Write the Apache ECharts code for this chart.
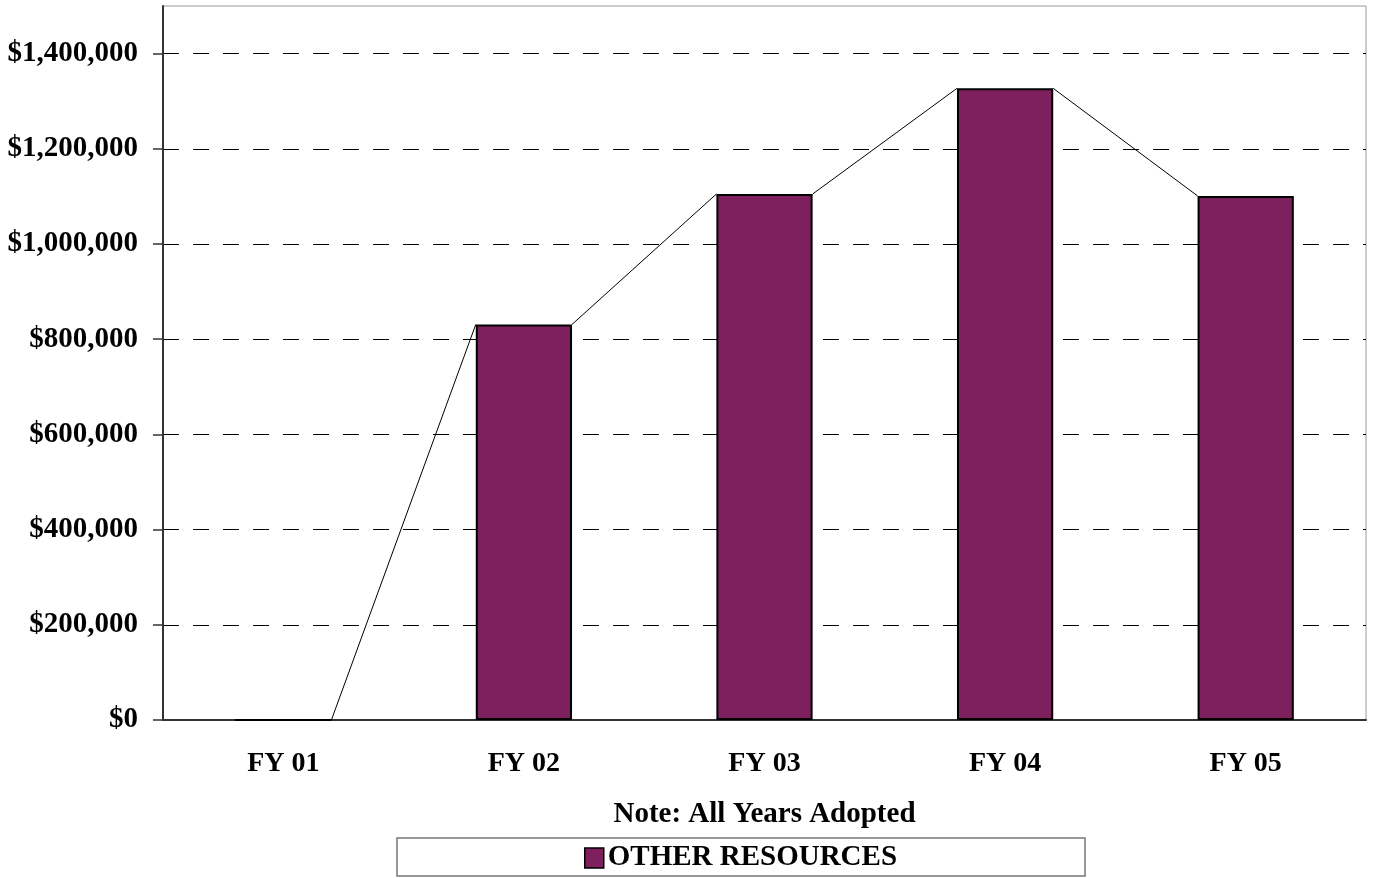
<!DOCTYPE html>
<html>
<head>
<meta charset="utf-8">
<style>
html,body{margin:0;padding:0;background:#fff;}
#chart{width:1375px;height:878px;}
</style>
<script src="https://cdn.jsdelivr.net/npm/echarts@6/dist/echarts.min.js"></script>
</head>
<body>
<div id="chart"></div>
<script>
const categories = ['FY 01', 'FY 02', 'FY 03', 'FY 04', 'FY 05'];
const otherResources = [0, 831000, 1105000, 1327000, 1101000];
const seriesName = 'OTHER RESOURCES';
const noteText = 'Note: All Years Adopted';

const FONT = '"Liberation Serif", "Times New Roman", serif';
const BAR_FRAC = 0.4;

const chart = echarts.init(document.getElementById('chart'));

const connectorData = otherResources.map((v, i) => [i, v, i > 0 ? otherResources[i - 1] : 0]);

chart.setOption({
  animation: false,
  backgroundColor: '#fff',
  grid: {
    left: 163, right: 9, top: 6, bottom: 158,
    show: true, borderColor: '#9a9a9a', borderWidth: 1, backgroundColor: 'transparent'
  },
  xAxis: {
    type: 'category',
    data: categories,
    axisLine: { show: true, lineStyle: { color: '#333', width: 2 } },
    axisTick: { show: false },
    axisLabel: {
      color: '#000', fontFamily: FONT, fontWeight: 'bold', fontSize: 28, margin: 30
    },
    name: noteText,
    nameLocation: 'middle',
    nameGap: 80,
    nameTextStyle: { color: '#000', fontFamily: FONT, fontWeight: 'bold', fontSize: 29 }
  },
  yAxis: {
    type: 'value',
    min: 0, max: 1500000, interval: 200000,
    axisLine: { show: true, lineStyle: { color: '#333', width: 2 } },
    axisTick: { show: true, length: 10, lineStyle: { color: '#333', width: 1.5 } },
    axisLabel: {
      showMaxLabel: false,
      color: '#000', fontFamily: FONT, fontWeight: 'bold', fontSize: 29, margin: 25,
      padding: [3, 0, 0, 0],
      formatter: v => '$' + v.toLocaleString('en-US')
    },
    splitLine: { show: true, showMaxLine: false, showMinLine: false, lineStyle: { color: '#000', width: 1.2, type: [16, 14] } }
  },
  legend: {
    show: true,
    left: 397, top: 838,
    padding: [4, 188, 2, 187],
    itemWidth: 19, itemHeight: 20, itemGap: 0,
    icon: 'rect',
    backgroundColor: '#fff',
    borderColor: '#777', borderWidth: 1.5,
    data: [{ name: seriesName, icon: 'rect', itemStyle: { color: '#7E1F5E', borderColor: '#000', borderWidth: 1.5 } }],
    textStyle: { color: '#000', fontFamily: FONT, fontWeight: 'bold', fontSize: 29, lineHeight: 29, padding: [3, 0, 0, -1] },
    selectedMode: false
  },
  series: [
    {
      name: seriesName,
      type: 'bar',
      data: otherResources,
      barWidth: (BAR_FRAC * 100) + '%',
      itemStyle: { color: '#7E1F5E', borderColor: '#000', borderWidth: 2 },
      z: 3
    },
    {
      name: 'connector',
      type: 'custom',
      data: connectorData,
      encode: { x: 0, y: 1 },
      renderItem: function (params, api) {
        const i = api.value(0);
        if (i === 0) return null;
        const half = api.size([1, 0])[0] * BAR_FRAC / 2;
        const p0 = api.coord([i - 1, api.value(2)]);
        const p1 = api.coord([i, api.value(1)]);
        return {
          type: 'line',
          shape: { x1: p0[0] + half, y1: p0[1], x2: p1[0] - half, y2: p1[1] },
          style: { stroke: '#000', lineWidth: 1 }
        };
      },
      z: 4,
      silent: true
    }
  ]
});
</script>
</body>
</html>
